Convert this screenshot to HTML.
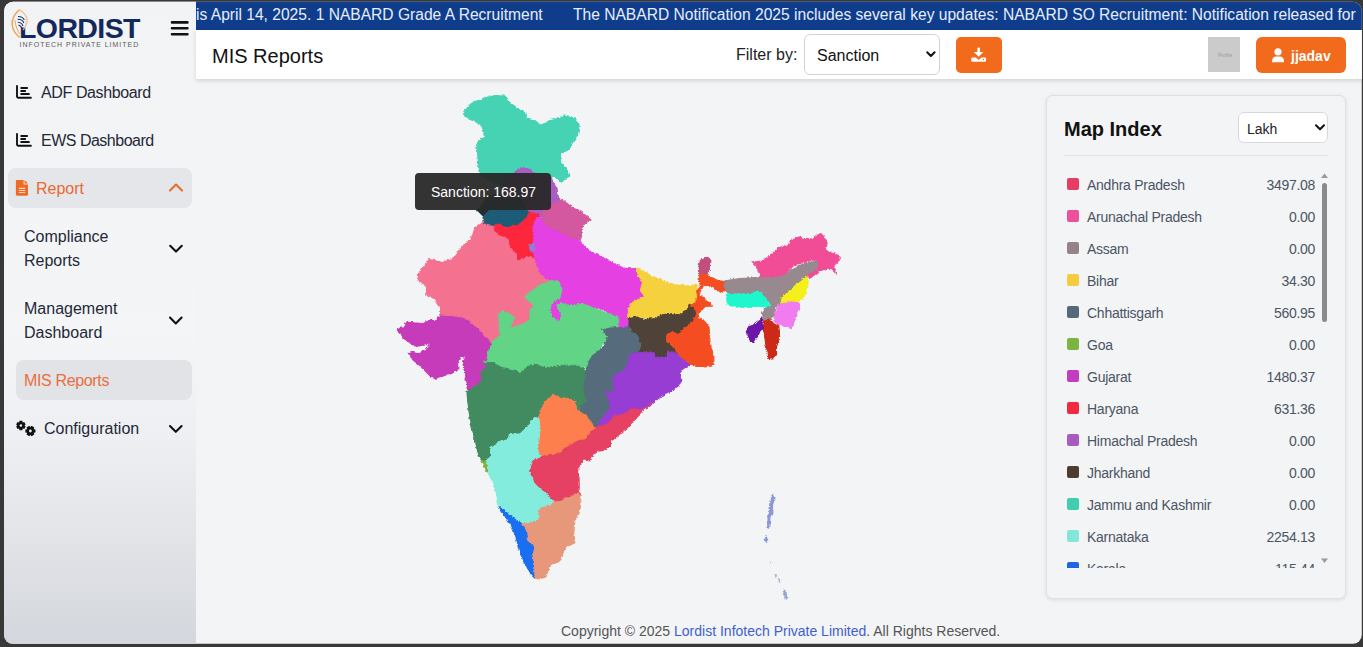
<!DOCTYPE html>
<html><head><meta charset="utf-8">
<style>
*{margin:0;padding:0;box-sizing:border-box}
html,body{width:1363px;height:647px;overflow:hidden;background:#383838;font-family:"Liberation Sans",sans-serif}
#win{position:absolute;left:0;top:0;width:1363px;height:647px;clip-path:inset(1.8px 1.2px 3.2px 4px round 9px);background:#f3f4f6}
.a{position:absolute;white-space:nowrap}
#side{position:absolute;left:0;top:0;width:196px;height:647px;background:linear-gradient(180deg,#f2f3f5 0%,#f4f5f7 52%,#eeeff2 68%,#e1e3e7 84%,#d3d6dc 100%)}
#ticker{position:absolute;left:196px;top:0;width:1167px;height:30px;background:#0f3d8c;color:#e6eefc;font-size:15.6px;overflow:hidden}
#hdr{position:absolute;left:196px;top:30px;width:1167px;height:49px;background:#fff;box-shadow:0 2px 4px rgba(0,0,0,.13)}
.mi{color:#1f2937;font-size:16px}
#panel{position:absolute;left:1046px;top:95px;width:300px;height:504px;border:1px solid #dde0e5;border-radius:7px;background:#f3f4f6;box-shadow:0 1px 4px rgba(0,0,0,.10)}
.row{position:absolute;width:260px;height:32px;font-size:14px;color:#4b5563}
.sw{position:absolute;left:3px;top:10px;width:12px;height:12px;border-radius:2px}
.nm{position:absolute;left:23px;top:9px;letter-spacing:-0.25px}
.vl{position:absolute;right:9px;top:9px;letter-spacing:-0.3px}
</style></head><body>
<div id="win">
  <div id="side"></div>
  <!-- logo -->
  <div class="a" style="left:19px;top:12px;font-size:28.5px;font-weight:bold;color:#13295b;letter-spacing:-0.6px">LORDIST</div>
  <div class="a" style="left:19.5px;top:41px;font-size:7px;color:#5c5c5c;letter-spacing:0.98px">INFOTECH PRIVATE LIMITED</div>
  <svg class="a" style="left:0;top:0" width="60" height="50" viewBox="0 0 60 50">
    <rect x="19" y="15" width="6.5" height="12.5" fill="#f2f3f5"/>
    <path fill="none" stroke="#eea55c" stroke-width="1.5" d="M19.4 9.8 C15 13 11.5 19 12.2 25 C12.8 30.5 16 34.5 19.6 37.4"/>
    <path fill="none" stroke="#f3b878" stroke-width="1.1" d="M19.4 9.8 C23.5 12 27.8 16.5 27.2 21.5 C26.8 25 24.5 28 23 30"/>
    <path fill="none" stroke="#e89a50" stroke-width="0.9" d="M14.8 20 C15.5 26 17.5 31 20 34"/>
    <g fill="none" stroke="#1d3566" stroke-width="1.1">
      <path d="M18 16.5 C20.5 16.5 23.5 18 24.3 20"/>
      <path d="M17.6 19.3 C20 19.3 23 20.5 23.8 23"/>
      <path d="M17.8 22.2 C20 22.4 22.4 23.8 23 26"/>
      <path d="M18.5 25 C20.3 25.5 21.6 27 21.8 29"/>
    </g>
  </svg>


  <div class="a mi" style="left:41px;top:84px;letter-spacing:-0.38px">ADF Dashboard</div>
  <div class="a mi" style="left:41px;top:132px;letter-spacing:-0.5px">EWS Dashboard</div>

  <div class="a" style="left:8px;top:168px;width:184px;height:40px;border-radius:8px;background:#e4e6ea"></div>
  <div class="a" style="left:36px;top:180px;font-size:16px;color:#ea6a30">Report</div>

  <div class="a mi" style="left:24px;top:228px">Compliance</div>
  <div class="a mi" style="left:24px;top:252px">Reports</div>
  <div class="a mi" style="left:24px;top:300px">Management</div>
  <div class="a mi" style="left:24px;top:324px">Dashboard</div>

  <div class="a" style="left:16px;top:360px;width:176px;height:40px;border-radius:8px;background:#e1e3e7"></div>
  <div class="a" style="left:24px;top:372px;font-size:16px;color:#e8703c;letter-spacing:-0.35px">MIS Reports</div>
  <div class="a mi" style="left:44px;top:420px">Configuration</div>

  <svg class="a" style="left:0;top:0" width="200" height="460" viewBox="0 0 200 460">
    <g fill="none" stroke="#111" stroke-width="1.9" stroke-linecap="round" stroke-linejoin="round">
      <path d="M17 86 V96.6 Q17 97.8 18.2 97.8 H30.9 M21.2 88 H27.1 M21.2 91 H25.2 M21.2 94 H28.9"/>
      <path d="M17 134 V144.6 Q17 145.8 18.2 145.8 H30.9 M21.2 136 H27.1 M21.2 139 H25.2 M21.2 142 H28.9"/>
    </g>
    <path fill="#ef6a22" d="M17 180 H23.6 V184.6 H28 V194.6 Q28 195.7 26.9 195.7 H17 Q15.9 195.7 15.9 194.6 V181.1 Q15.9 180 17 180 Z M24.6 180 L28 183.6 H24.6 Z"/>
    <path stroke="#fbd9c2" stroke-width="1.1" d="M18.9 188.4 H25.2 M18.9 190.5 H25.2 M18.9 192.5 H25.2"/>
    <g fill="none" stroke-width="2.1" stroke-linecap="round" stroke-linejoin="round">
      <path stroke="#ea6a30" d="M170 190.6 L176 184.6 L182 190.6"/>
      <path stroke="#111" d="M170.2 245.8 L176 251.6 L181.8 245.8"/>
      <path stroke="#111" d="M170 317.6 L175.8 323.4 L181.6 317.6"/>
      <path stroke="#111" d="M170 426 L175.8 431.8 L181.6 426"/>
    </g>
    <path fill="#111" fill-rule="evenodd" d="M19.45 420.82 L22.35 420.82 L22.63 422.34 L22.77 422.43 L24.23 421.91 L25.68 424.41 L24.50 425.42 L24.50 425.58 L25.68 426.59 L24.23 429.09 L22.77 428.57 L22.63 428.66 L22.35 430.18 L19.45 430.18 L19.17 428.66 L19.03 428.57 L17.57 429.09 L16.12 426.59 L17.30 425.58 L17.30 425.42 L16.12 424.41 L17.57 421.91 L19.03 422.43 L19.17 422.34 Z M19.60 425.50 a1.30 1.30 0 1 0 2.60 0 a1.30 1.30 0 1 0 -2.60 0 Z"/>
    <path fill="#111" fill-rule="evenodd" d="M35.46 429.43 L35.46 432.57 L33.82 432.87 L33.73 433.03 L34.29 434.60 L31.58 436.17 L30.49 434.90 L30.31 434.90 L29.22 436.17 L26.51 434.60 L27.07 433.03 L26.98 432.87 L25.34 432.57 L25.34 429.43 L26.98 429.13 L27.07 428.97 L26.51 427.40 L29.22 425.83 L30.31 427.10 L30.49 427.10 L31.58 425.83 L34.29 427.40 L33.73 428.97 L33.82 429.13 Z M29.00 431.00 a1.40 1.40 0 1 0 2.80 0 a1.40 1.40 0 1 0 -2.80 0 Z"/>
    <g stroke="#111" stroke-width="2.6" stroke-linecap="round">
      <path d="M172 22.4 H187.4 M172 28.3 H187.4 M172 34.3 H187.4"/>
    </g>
  </svg>
  <div id="ticker">
    <div class="a" style="left:0px;top:6px">is April 14, 2025. 1 NABARD Grade A Recruitment</div>
    <div class="a" style="left:377px;top:6px">The NABARD Notification 2025 includes several key updates: NABARD SO Recruitment: Notification released for</div>
  </div>
  <div id="hdr"></div>
  <div class="a" style="left:212px;top:45px;font-size:20px;color:#111">MIS Reports</div>
  <div class="a" style="left:736px;top:46px;font-size:16px;color:#222">Filter by:</div>
  <div class="a" style="left:804px;top:34px;width:136px;height:41px;border:1px solid #cfd3d8;border-radius:6px;background:#fff"></div>
  <div class="a" style="left:817px;top:47px;font-size:16px;color:#111">Sanction</div>
  <div class="a" style="left:956px;top:37px;width:46px;height:36px;border-radius:5px;background:#f26a1b"></div>
  <div class="a" style="left:1208px;top:37px;width:32px;height:35px;background:#cbcbcb"></div>
  <div class="a" style="left:1218px;top:52px;font-size:5px;color:#9a9a9a">Profile</div>
  <div class="a" style="left:1256px;top:37px;width:90px;height:36px;border-radius:6px;background:#f26a1b"></div>
  <div class="a" style="left:1291px;top:48px;font-size:14px;font-weight:bold;color:#fff">jjadav</div>


  <svg class="a" style="left:0;top:0" width="1363" height="80" viewBox="0 0 1363 80">
    <path fill="none" stroke="#111" stroke-width="2" stroke-linecap="round" stroke-linejoin="round" d="M927.2 52.3 L930.9 56 L934.6 52.3"/>
    <g fill="#fff">
      <rect x="977.4" y="47.6" width="2.5" height="5.5" rx="0.6"/>
      <path d="M973.8 52 H983.5 L978.65 56.8 Z"/>
      <path d="M972.6 57.4 H975.8 L978.65 60 L981.5 57.4 H984.7 Q986.1 57.4 986.1 58.8 V60.4 Q986.1 61.8 984.7 61.8 H972.6 Q971.2 61.8 971.2 60.4 V58.8 Q971.2 57.4 972.6 57.4 Z"/>
    </g>
    <circle cx="983.4" cy="59.5" r="0.7" fill="#f26a1b"/>
    <g fill="#fff">
      <circle cx="1278" cy="51.8" r="3.6"/>
      <path d="M1272 62.2 Q1271.8 56.4 1276.2 56.4 H1279.8 Q1284.2 56.4 1284 62.2 Z"/>
    </g>
  </svg>
  <div id="panel"></div>
  <div class="a" style="left:1064px;top:118px;font-size:20px;font-weight:bold;color:#111">Map Index</div>
  <div class="a" style="left:1238px;top:112px;width:90px;height:31px;border:1px solid #d5d8dd;border-radius:6px;background:#fff"></div>
  <div class="a" style="left:1247px;top:121px;font-size:14px;color:#222">Lakh</div>
  <svg class="a" style="left:1310px;top:120px" width="20" height="16"><path fill="none" stroke="#111" stroke-width="2" stroke-linecap="round" stroke-linejoin="round" d="M6 5.2 L10 9.2 L14 5.2"/></svg>
  <div class="a" style="left:1064px;top:155px;width:264px;height:1px;background:#dfe2e6"></div>

<svg class="a" style="left:0;top:0" width="1363" height="647" viewBox="0 0 1363 647" shape-rendering="geometricPrecision"><defs><filter id="rough" x="380" y="80" width="480" height="530" filterUnits="userSpaceOnUse"><feTurbulence type="turbulence" baseFrequency="0.3" numOctaves="1" seed="5" result="n"/><feDisplacementMap in="SourceGraphic" in2="n" scale="1.6" xChannelSelector="R" yChannelSelector="G"/></filter></defs><g filter="url(#rough)"><g transform="translate(-0.55,-0.55)">
<polygon fill="#f4728f" stroke="#f4728f" stroke-width="1.1" points="484.3,218.0 483.9,223.3 493.9,225.3 495.5,231.5 500.1,234.6 507.8,237.7 510.9,247.0 517.1,253.1 517.1,259.3 523.3,257.8 526.4,254.7 535.7,257.8 538.0,254.7 536.1,262.2 540.1,272.3 546.1,278.3 552.0,280.0 545.0,300.0 540.0,325.0 520.0,340.0 500.0,350.0 488.4,342.7 478.2,329.3 470.4,323.0 462.5,320.0 451.3,319.0 441.0,318.0 437.0,320.0 440.1,315.5 440.1,306.4 434.1,298.4 426.1,294.4 426.1,286.4 418.0,280.3 418.0,274.3 424.1,266.3 429.1,259.2 434.1,260.2 442.1,262.2 452.2,259.2 456.2,254.2 462.2,246.2 470.3,240.1 474.3,228.1 481.3,223.1"/>
<polygon fill="#44d3b4" stroke="#44d3b4" stroke-width="1.1" points="464.3,111.2 473.6,101.1 481.3,100.4 482.8,98.0 494.4,95.0 504.5,95.7 509.1,101.9 516.9,108.1 525.5,113.1 527.0,118.6 536.3,121.6 540.2,125.5 550.2,120.1 561.0,117.8 564.1,115.5 575.0,118.6 579.6,124.7 578.0,135.6 571.9,143.3 568.8,149.5 561.0,153.3 561.0,161.9 567.0,170.0 569.5,176.2 560.9,181.7 554.7,176.2 551.0,177.4 540.0,185.0 500.0,185.0 480.0,176.0 479.7,171.5 478.2,165.3 476.6,146.8 478.2,141.3 485.2,135.9 483.6,131.3 481.3,125.1 475.1,121.2 464.3,116.6"/>
<polygon fill="#a95cc2" stroke="#a95cc2" stroke-width="1.1" points="515.6,171.2 523.3,167.3 529.5,168.9 534.0,172.7 551.0,177.4 552.8,182.4 556.5,188.6 557.8,196.0 559.6,200.3 562.1,199.1 566.0,205.0 550.0,215.0 542.3,216.0 537.4,216.0 532.4,213.0 526.4,210.6 500.0,205.0 505.0,180.0"/>
<polygon fill="#d3589f" stroke="#d3589f" stroke-width="1.1" points="559.6,200.3 562.1,199.1 567.0,203.4 572.0,207.1 578.2,209.6 583.1,213.3 590.5,219.5 584.4,224.4 581.9,228.1 581.9,234.3 579.4,240.5 574.5,239.3 564.6,235.5 558.4,231.8 549.7,228.1 543.6,224.4 541.1,218.2 542.3,212.7 543.6,209.6 553.4,203.4"/>
<polygon fill="#1c5b77" stroke="#1c5b77" stroke-width="1.1" points="477.0,210.0 490.0,195.0 520.0,195.0 526.4,210.6 529.5,213.0 526.4,217.6 521.8,222.2 517.1,225.3 510.9,226.1 506.1,227.1 502.9,227.6 497.5,224.4 493.7,224.9 483.9,223.3 484.5,221.6 483.4,216.2"/>
<polygon fill="#fe283e" stroke="#fe283e" stroke-width="1.1" points="493.9,225.3 495.5,231.5 500.1,234.6 507.8,237.7 510.9,247.0 517.1,253.1 517.1,259.3 523.3,257.8 526.4,254.7 535.7,257.8 538.0,254.7 535.7,245.4 534.1,237.7 534.0,229.9 540.0,222.0 539.0,214.0 529.5,212.0 526.4,217.6 521.8,222.2 517.1,225.3 510.9,226.1 504.7,228.4 501.6,224.5"/>
<polygon fill="#e440e2" stroke="#e440e2" stroke-width="1.1" points="533.1,226.1 537.4,217.0 541.1,218.2 543.6,224.4 549.7,228.1 558.4,231.8 564.6,235.5 574.5,239.3 579.4,240.5 586.8,249.1 600.4,256.2 612.4,262.2 622.5,267.3 629.5,268.3 636.1,268.1 638.1,276.1 642.1,282.1 640.1,290.2 644.1,296.2 632.1,302.2 628.0,310.3 629.5,318.0 628.6,325.0 623.9,328.7 618.3,327.3 618.5,318.5 612.4,314.5 600.4,308.5 594.0,307.8 582.4,303.2 573.1,305.5 561.5,303.2 556.9,305.5 561.5,314.8 559.2,321.7 551.1,317.1 549.9,305.5 554.6,300.9 559.2,298.5 561.5,289.3 559.2,282.3 552.2,280.0 550.1,279.3 546.1,278.3 540.1,272.3 536.1,262.2 532.1,250.2 534.1,236.1"/>
<polygon fill="#9080d8" stroke="#9080d8" stroke-width="1.1" points="529.5,245.4 533.3,243.9 534.9,249.3 531.0,250.8"/>
<polygon fill="#f4d13e" stroke="#f4d13e" stroke-width="1.1" points="636.1,268.1 646.1,272.1 652.1,277.1 662.2,280.1 670.2,284.2 682.3,285.2 690.3,286.2 697.0,284.6 696.2,290.9 697.4,297.1 695.0,303.3 690.0,304.5 688.3,308.3 680.3,314.3 668.2,314.3 660.2,316.3 650.1,319.3 640.1,317.3 628.0,319.3 628.0,310.3 632.1,302.2 644.1,296.2 640.1,290.2 642.1,282.1 638.1,276.1"/>
<polygon fill="#c63ab9" stroke="#c63ab9" stroke-width="1.1" points="397.1,331.0 398.9,327.9 403.9,327.3 406.4,321.7 413.8,322.4 422.4,323.0 427.4,321.1 432.3,319.9 434.8,321.7 438.5,317.4 441.0,315.6 449.6,316.2 459.5,317.4 468.2,321.1 474.0,326.1 478.2,329.3 488.4,341.0 492.1,344.8 487.4,352.5 487.4,360.2 482.8,363.3 487.4,366.4 481.3,372.6 482.8,380.3 475.1,386.5 470.4,389.6 468.2,390.0 465.7,379.2 464.5,369.4 463.2,361.9 465.7,357.0 460.8,355.7 458.3,361.9 458.3,369.4 448.4,374.3 438.5,376.8 436.0,378.6 431.1,376.8 424.9,370.6 418.7,364.4 412.5,359.5 408.8,353.3 412.5,352.0 418.7,353.3 426.1,349.6 431.1,342.8 424.9,344.6 416.3,345.9 408.8,342.1 403.9,338.4 401.4,334.7"/>
<polygon fill="#62d486" stroke="#62d486" stroke-width="1.1" points="552.2,280.0 559.2,282.3 561.5,289.3 559.2,298.5 554.6,300.9 549.9,305.5 551.1,317.1 559.2,321.7 561.5,314.8 556.9,305.5 561.5,303.2 573.1,305.5 582.4,303.2 594.0,307.8 605.6,312.5 618.3,317.1 618.3,326.4 602.1,329.8 607.9,338.0 600.9,347.2 591.7,356.5 587.0,368.1 577.7,365.8 561.5,365.8 547.6,368.1 535.0,364.9 527.6,366.4 519.9,374.1 516.8,371.0 501.3,368.0 492.1,361.8 482.8,363.3 487.4,360.2 487.4,352.5 492.1,344.8 492.1,341.7 499.8,335.5 499.5,327.8 498.5,314.0 502.9,310.5 506.0,312.5 514.5,317.0 510.0,327.5 516.8,326.3 527.6,321.6 530.7,317.0 529.5,309.5 534.6,307.0 524.4,296.2 538.0,286.5"/>
<polygon fill="#438a5f" stroke="#438a5f" stroke-width="1.1" points="466.6,391.1 470.4,389.6 475.1,386.5 482.8,380.3 481.3,372.6 487.4,366.4 482.8,363.3 492.1,361.8 501.3,368.0 516.8,371.0 519.9,374.1 527.6,366.4 535.0,364.9 547.6,368.1 561.5,365.8 577.7,365.8 581.6,367.6 586.0,370.3 584.9,381.6 583.8,393.5 588.1,401.1 581.6,405.4 579.5,411.9 576.2,409.8 575.1,401.1 568.7,399.0 560.0,397.9 552.4,394.8 543.1,404.1 538.5,418.0 535.0,417.1 527.6,426.3 519.9,433.3 509.8,434.1 509.0,438.7 499.8,441.8 490.5,448.0 491.3,455.7 485.9,461.1 481.3,460.3 478.2,454.1 475.1,441.8 472.0,429.4 469.7,418.6 468.1,407.8 466.6,393.9"/>
<polygon fill="#566c7b" stroke="#566c7b" stroke-width="1.1" points="610.0,327.5 618.3,327.3 623.9,328.7 628.6,325.0 634.1,331.9 637.8,335.6 641.5,344.0 640.6,349.5 637.8,352.3 631.3,357.0 628.2,363.2 624.9,369.7 616.3,374.1 613.0,378.4 613.0,388.1 616.3,393.5 610.8,392.5 605.4,391.4 609.8,402.2 609.8,408.7 603.3,416.3 600.0,420.6 598.9,426.0 596.8,428.2 592.5,426.0 590.3,421.7 586.0,415.2 579.5,411.9 581.6,405.4 588.1,401.1 583.8,393.5 584.9,381.6 586.5,369.7 589.2,360.0 592.0,355.5 604.0,346.5 607.9,336.0 602.1,329.5"/>
<polygon fill="#504337" stroke="#504337" stroke-width="1.1" points="628.6,318.0 636.9,316.6 643.4,319.8 649.0,318.5 656.4,318.0 663.8,313.8 670.0,314.3 680.3,314.3 688.3,308.3 690.0,304.5 695.0,308.2 696.2,314.4 692.5,321.8 690.0,324.3 686.3,326.4 678.3,334.4 666.2,336.4 670.2,344.4 679.5,352.5 677.4,354.6 666.6,352.3 665.7,357.9 654.5,357.9 653.6,353.2 649.0,352.3 637.8,352.3 640.6,349.5 641.5,344.0 637.8,335.6 634.1,331.9 628.6,325.0"/>
<polygon fill="#f54e22" stroke="#f54e22" stroke-width="1.1" points="699.3,273.6 707.3,273.6 709.8,277.3 717.2,279.8 725.9,281.6 725.3,289.7 720.9,292.1 714.8,288.4 709.8,285.9 704.9,284.7 701.1,288.4 699.3,292.1 698.7,295.8 703.6,297.1 706.1,300.8 709.8,302.0 711.7,305.7 706.1,305.7 702.4,309.5 697.4,313.2 698.7,318.1 704.9,321.8 708.6,326.8 709.3,338.3 710.7,348.1 713.4,355.0 713.4,364.8 707.9,366.2 700.0,366.5 689.8,364.8 680.1,357.8 674.5,348.1 670.3,343.9 666.2,339.7 666.2,335.6 671.7,331.4 678.3,334.4 686.3,326.4 690.0,324.3 692.5,321.8 696.2,314.4 695.0,308.2 690.0,304.5 695.0,303.3 697.4,297.1 696.2,290.9 701.1,284.7 698.7,279.8"/>
<polygon fill="#c05080" stroke="#c05080" stroke-width="1.1" points="699.9,260.0 707.3,256.9 710.4,260.0 709.8,269.9 707.3,273.6 699.3,273.6 698.7,266.1"/>
<polygon fill="#983ed4" stroke="#983ed4" stroke-width="1.1" points="613.0,378.4 616.3,374.1 624.9,369.7 628.2,363.2 630.0,355.0 637.0,352.3 653.6,352.3 654.3,357.1 666.9,357.8 667.6,350.9 675.9,353.6 680.1,357.8 684.2,360.6 689.8,364.8 682.9,368.9 680.1,373.1 681.5,380.1 678.7,385.6 671.7,391.2 663.4,395.4 655.0,400.9 646.7,407.9 641.6,410.2 631.4,408.5 630.0,409.8 624.9,414.1 614.1,416.3 606.5,424.9 598.9,426.0 600.0,420.6 603.3,416.3 609.8,408.7 609.8,402.2 605.4,391.4 610.8,392.5 616.3,393.5 613.0,388.1"/>
<polygon fill="#97898e" stroke="#97898e" stroke-width="1.1" points="724.6,280.5 738.5,278.2 758.6,277.4 771.0,275.9 784.9,274.4 791.1,269.7 800.3,265.1 809.6,262.0 817.3,260.4 818.9,268.2 808.1,275.9 797.3,283.6 791.1,289.8 781.8,297.5 780.3,303.7 775.6,306.8 774.1,316.1 770.7,319.5 764.2,322.7 763.1,319.5 762.0,313.0 766.4,306.8 770.2,305.3 766.4,299.1 761.7,292.9 755.5,291.3 749.4,294.4 741.6,293.7 729.3,293.7 726.2,291.3 724.6,286.7"/>
<polygon fill="#f04d96" stroke="#f04d96" stroke-width="1.1" points="752.2,261.5 755.3,262.4 761.5,261.5 769.4,256.2 778.2,248.3 788.8,244.7 791.4,240.3 798.5,236.4 802.9,238.6 811.7,239.5 817.0,235.0 821.4,234.2 824.9,237.7 826.7,243.9 824.9,249.1 828.4,251.8 834.6,253.6 839.9,257.1 839.0,260.6 833.7,265.9 835.5,271.2 836.3,273.8 831.9,269.4 827.5,268.5 819.6,271.2 813.4,275.6 808.1,278.2 807.3,275.6 818.7,268.5 817.0,259.7 811.7,259.7 802.9,262.4 792.3,265.9 786.1,272.9 781.7,275.6 772.0,276.5 760.6,277.3 759.7,272.9 757.0,266.8"/>
<polygon fill="#f5ef1a" stroke="#f5ef1a" stroke-width="1.1" points="807.3,275.9 808.1,283.6 805.8,292.9 803.4,297.5 800.3,300.6 791.1,302.2 784.9,305.3 780.3,303.7 781.8,297.5 791.1,289.8 797.3,283.6"/>
<polygon fill="#f07cf0" stroke="#f07cf0" stroke-width="1.1" points="778.3,305.4 782.6,303.2 791.1,302.2 797.7,302.2 799.9,306.5 795.6,317.3 791.3,328.1 784.8,326.0 777.2,323.8 774.5,321.6 775.0,314.1"/>
<polygon fill="#cc2a18" stroke="#cc2a18" stroke-width="1.1" points="764.2,321.6 769.6,319.5 774.0,323.8 778.3,326.0 779.4,334.6 778.3,342.2 776.1,345.4 776.1,354.1 772.9,358.4 768.5,359.0 767.5,351.9 765.3,345.4 764.2,335.7 763.1,328.1"/>
<polygon fill="#6c18a8" stroke="#6c18a8" stroke-width="1.1" points="762.0,318.4 763.1,328.1 758.8,332.5 756.6,336.8 753.4,342.2 750.1,341.1 748.0,335.7 745.8,331.4 749.1,326.0 755.6,323.8 759.9,320.6"/>
<polygon fill="#1ef8cc" stroke="#1ef8cc" stroke-width="1.1" points="727.0,294.4 741.6,293.7 749.4,294.4 755.5,291.3 761.7,292.9 766.4,299.1 770.2,305.3 766.4,306.8 756.6,306.5 745.8,307.0 735.0,306.5 727.7,304.5 726.2,300.6"/>
<polygon fill="#80b040" stroke="#80b040" stroke-width="1.1" points="481.3,460.3 485.9,461.1 488.2,464.2 489.0,471.1 487.4,472.7 484.3,466.5"/>
<polygon fill="#fd7f4e" stroke="#fd7f4e" stroke-width="1.1" points="538.5,418.0 543.1,404.1 552.4,394.8 560.0,397.9 568.7,399.0 575.1,401.1 576.2,409.8 579.5,411.9 586.0,415.2 590.3,421.7 592.5,426.0 596.8,428.2 592.5,430.0 585.5,439.1 577.0,440.8 566.8,447.6 560.0,452.7 552.4,455.1 540.8,456.2 537.3,450.4 539.6,429.6"/>
<polygon fill="#e63f62" stroke="#e63f62" stroke-width="1.1" points="540.8,456.2 552.4,455.1 560.0,452.7 566.8,447.6 577.0,440.8 585.5,439.1 592.5,430.0 596.8,428.2 598.9,426.0 606.5,424.9 614.1,416.3 624.9,414.1 630.0,409.8 631.4,408.5 641.6,410.2 646.7,407.9 651.8,401.7 645.0,408.5 636.5,417.0 628.0,427.2 617.8,435.7 611.0,440.8 611.0,445.9 605.9,449.3 597.4,451.0 592.3,456.1 589.8,460.4 583.8,459.5 578.7,466.3 577.9,473.1 578.7,479.9 578.7,490.1 580.4,495.2 570.2,496.9 560.0,501.1 553.8,502.0 550.2,498.4 545.8,493.1 540.4,489.6 536.9,486.0 533.3,482.4 531.6,477.1 528.9,470.0 532.2,460.0"/>
<polygon fill="#84ecdc" stroke="#84ecdc" stroke-width="1.1" points="485.9,461.1 491.3,455.7 490.5,448.0 499.8,441.8 509.0,438.7 509.8,434.1 519.9,433.3 527.6,426.3 535.0,417.1 538.5,418.0 539.6,429.6 537.3,450.4 540.8,456.2 532.2,460.0 528.9,470.0 531.6,477.1 533.3,482.4 536.9,486.0 540.4,489.6 545.8,493.1 550.2,498.4 553.8,502.0 551.1,505.6 542.2,507.3 538.7,510.9 540.4,516.2 536.9,521.6 528.0,523.3 520.9,523.3 515.6,519.8 506.7,512.7 498.7,506.4 496.0,493.1 492.4,480.7 488.0,471.8 488.2,464.2"/>
<polygon fill="#e8987a" stroke="#e8987a" stroke-width="1.1" points="553.8,502.0 560.0,501.1 570.2,496.9 578.7,493.5 580.4,495.2 580.4,502.0 579.6,508.8 578.4,514.3 574.4,520.3 573.4,532.4 574.4,542.4 566.4,546.4 562.4,554.5 560.4,560.5 550.3,564.5 547.6,573.1 544.9,576.7 538.7,578.4 534.2,577.6 533.3,574.9 533.3,564.2 531.6,555.3 533.3,546.4 527.1,541.1 526.2,532.2 520.9,523.3 528.0,523.3 536.9,521.6 540.4,516.2 538.7,510.9 542.2,507.3 551.1,505.6"/>
<polygon fill="#1a6ef0" stroke="#1a6ef0" stroke-width="1.1" points="498.7,506.4 506.7,512.7 515.6,519.8 520.9,523.3 526.2,532.2 527.1,541.1 533.3,546.4 531.6,555.3 533.3,564.2 533.3,574.9 534.2,577.6 531.6,574.9 527.1,567.8 522.7,558.9 519.1,548.2 515.6,537.6 511.1,525.1 504.9,516.2"/>
<polygon fill="#8d98d8" stroke="#8d98d8" stroke-width="1.1" points="773.1,494.3 774.5,498.0 773.6,503.6 772.6,507.3 772.4,512.8 770.6,516.5 770.0,522.1 768.9,527.7 767.3,526.8 767.5,520.3 768.7,514.7 769.6,509.1 770.3,503.6 771.4,497.1"/>
<polygon fill="#8d98d8" stroke="#8d98d8" stroke-width="1.1" points="765.9,536.8 767.3,539.7 766.1,541.8 764.6,539.7"/>
<polygon fill="#9aa2d6" stroke="#9aa2d6" stroke-width="1.1" points="784.2,590.4 785.7,593.3 787.4,597.6 785.5,598.6 783.4,594.2"/>
<polygon fill="#a0a6cc" stroke="#a0a6cc" stroke-width="1.1" points="779.1,579.6 780.2,580.4 779.4,581.4"/>
<polygon fill="#a8acc8" stroke="#a8acc8" stroke-width="1.1" points="770.1,561.8 771.1,561.9 770.6,562.9"/>
<polygon fill="#b0b4cc" stroke="#b0b4cc" stroke-width="1.1" points="774.8,575.0 776.0,575.4 775.4,576.6"/>
</g></g></svg>
  <div class="a" style="left:415px;top:173px;width:136px;height:37px;border-radius:4px;background:rgba(40,40,40,.95)"></div>
  <svg class="a" style="left:476px;top:209px" width="14" height="8"><polygon points="1,1 13,1 7,7" fill="rgba(40,40,40,.95)"/></svg>
  <div class="a" style="left:431px;top:184px;font-size:14px;color:#fff">Sanction: 168.97</div>
  <div class="a" style="left:1046px;top:172px;width:290px;height:396px;overflow:hidden">
    <div class="row" style="left:18px;top:-4px"><div class="sw" style="background:#e63e62"></div><div class="nm">Andhra Pradesh</div><div class="vl">3497.08</div></div>
    <div class="row" style="left:18px;top:28px"><div class="sw" style="background:#ec4f9c"></div><div class="nm">Arunachal Pradesh</div><div class="vl">0.00</div></div>
    <div class="row" style="left:18px;top:60px"><div class="sw" style="background:#968289"></div><div class="nm">Assam</div><div class="vl">0.00</div></div>
    <div class="row" style="left:18px;top:92px"><div class="sw" style="background:#f5cb3f"></div><div class="nm">Bihar</div><div class="vl">34.30</div></div>
    <div class="row" style="left:18px;top:124px"><div class="sw" style="background:#55697a"></div><div class="nm">Chhattisgarh</div><div class="vl">560.95</div></div>
    <div class="row" style="left:18px;top:156px"><div class="sw" style="background:#7cb342"></div><div class="nm">Goa</div><div class="vl">0.00</div></div>
    <div class="row" style="left:18px;top:188px"><div class="sw" style="background:#c33bbf"></div><div class="nm">Gujarat</div><div class="vl">1480.37</div></div>
    <div class="row" style="left:18px;top:220px"><div class="sw" style="background:#f02a40"></div><div class="nm">Haryana</div><div class="vl">631.36</div></div>
    <div class="row" style="left:18px;top:252px"><div class="sw" style="background:#a85cc0"></div><div class="nm">Himachal Pradesh</div><div class="vl">0.00</div></div>
    <div class="row" style="left:18px;top:284px"><div class="sw" style="background:#4e3d2f"></div><div class="nm">Jharkhand</div><div class="vl">0.00</div></div>
    <div class="row" style="left:18px;top:316px"><div class="sw" style="background:#40cfae"></div><div class="nm">Jammu and Kashmir</div><div class="vl">0.00</div></div>
    <div class="row" style="left:18px;top:348px"><div class="sw" style="background:#84e6d8"></div><div class="nm">Karnataka</div><div class="vl">2254.13</div></div>
    <div class="row" style="left:18px;top:380px"><div class="sw" style="background:#1f66e0"></div><div class="nm">Kerala</div><div class="vl">115.44</div></div>
  </div>
  <div class="a" style="left:1322px;top:183px;width:5px;height:139px;border-radius:3px;background:#8a8a8a"></div>
  <svg class="a" style="left:1320px;top:172px" width="9" height="8"><polygon points="1,6 8,6 4.5,1.5" fill="#9a9a9a"/></svg>
  <svg class="a" style="left:1320px;top:557px" width="9" height="8"><polygon points="1,1.5 8,1.5 4.5,6" fill="#9a9a9a"/></svg>
  <div class="a" style="left:561px;top:623px;font-size:14px;color:#555">Copyright © 2025 <span style="color:#3f5fcf">Lordist Infotech Private Limited</span>. All Rights Reserved.</div>
</div>
</body></html>
